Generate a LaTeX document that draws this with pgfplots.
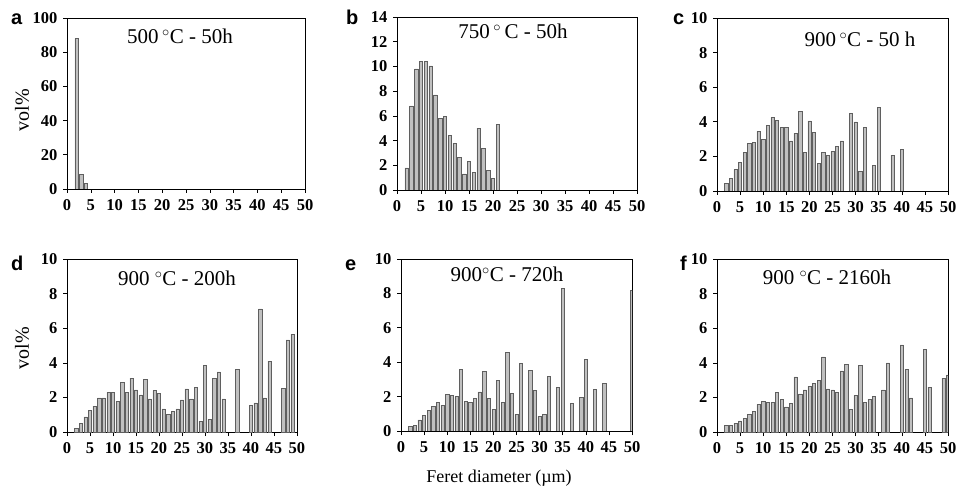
\documentclass[border=0pt]{standalone}
\usepackage{fontspec}
\setmainfont{Liberation Serif}
\newfontfamily\letterfont{Liberation Sans}
\usepackage{pgfplots}
\pgfplotsset{compat=1.18}

\definecolor{barfill}{RGB}{192,192,192}
\definecolor{baredge}{RGB}{95,95,95}

\pgfplotsset{
  hist/.style={
    scale only axis,
    anchor=south west,
    xmin=0, xmax=50, ymin=0,
    xtick={0,5,...,50},
    tick align=outside,
    tick pos=left,
    major tick length=4pt,
    axis line style={black, line width=0.8pt},
    tick style={black, line width=0.6pt},
    tick label style={font=\fontsize{16.5}{18}\selectfont\bfseries},
    /pgf/number format/assume math mode=true,
    xticklabel style={yshift=-3pt},
    yticklabel style={xshift=-2pt},
    ybar, bar width=0.7,
  },
  ten/.style={ymax=10, ytick={0,2,...,10}},
  gbar/.style={fill=barfill, draw=baredge, line width=0.5pt},
}

\newcommand{\titlefont}{\fontsize{21}{24}\selectfont}
\newcommand{\letfont}{\fontsize{20}{22}\selectfont\letterfont\bfseries}

\begin{document}
\begin{tikzpicture}
\path[use as bounding box] (0pt,0pt) rectangle (959pt,493pt);

% a: 500C - 50h
\begin{axis}[hist, at={(67pt,304pt)}, width=238pt, height=171pt,
  ymax=100, ytick={0,20,...,100}]
\addplot[gbar] coordinates {(2,88) (3,8.5) (4,3.2)};
\end{axis}

% b: 750C - 50h
\begin{axis}[hist, at={(397pt,303pt)}, width=240pt, height=173pt,
  ymax=14, ytick={0,2,...,14}]
\addplot[gbar] coordinates {(2,1.8) (3,6.8) (4,9.8) (5,10.43) (6,10.4) (7,10.05) (8,7.7)
  (9,5.8) (10,5.95) (11,4.45) (12,3.78) (13,2.65) (14,1.3) (15,2.3) (16,1.45)
  (17,5.0) (18,3.35) (19,1.6) (20,0.95) (21,5.3)};
\end{axis}

% c: 900C - 50h
\begin{axis}[hist, ten, at={(717pt,302pt)}, width=231pt, height=173pt]
\addplot[gbar] coordinates {(2,0.43) (3,0.72) (4,1.24) (5,1.64) (6,2.22) (7,2.75) (8,2.8)
  (9,3.44) (10,2.98) (11,3.79) (12,4.26) (13,4.1) (14,3.68) (15,3.68) (16,2.9)
  (17,3.33) (18,4.6) (19,2.22) (20,4.06) (21,3.38) (22,1.59) (23,2.22) (24,2.05)
  (25,2.28) (26,2.59) (27,2.9) (29,4.49) (30,4.0) (31,1.12) (32,3.66) (34,1.47)
  (35,4.82) (38,2.07) (40,2.4)};
\end{axis}

% d: 900C - 200h
\begin{axis}[hist, ten, at={(67pt,61pt)}, width=230pt, height=173pt]
\addplot[gbar] coordinates {(2,0.23) (3,0.52) (4,0.87) (5,1.27) (6,1.5) (7,1.97) (8,1.97)
  (9,2.29) (10,2.29) (11,1.77) (12,2.87) (13,2.31) (14,3.12) (15,2.43) (16,2.14)
  (17,3.06) (18,1.91) (19,2.39) (20,2.25) (21,1.33) (22,1.04) (23,1.18) (24,1.33)
  (25,1.85) (26,2.49) (27,1.91) (28,2.6) (29,0.62) (30,3.87) (31,0.75) (32,3.12)
  (33,3.47) (34,1.91) (37,3.64) (40,1.56) (41,1.68) (42,7.11) (43,1.97) (44,4.1)
  (47,2.54) (48,5.32) (49,5.66)};
\end{axis}

% e: 900C - 720h
\begin{axis}[hist, ten, at={(401pt,62pt)}, width=231pt, height=172pt]
\addplot[gbar] coordinates {(2,0.25) (3,0.33) (4,0.64) (5,0.93) (6,1.2) (7,1.44) (8,1.67)
  (9,1.5) (10,2.14) (11,2.08) (12,2.0) (13,3.57) (14,1.73) (15,1.67) (16,1.9)
  (17,2.27) (18,3.46) (19,1.9) (20,1.26) (21,2.93) (22,1.67) (23,4.58) (24,2.19)
  (25,0.97) (26,3.94) (28,3.53) (29,2.37) (30,0.85) (31,0.97) (32,3.17) (34,2.54)
  (35,8.31) (37,1.61) (39,1.94) (40,4.17) (42,2.43) (44,2.78) (50,8.19)};
\end{axis}

% f: 900C - 2160h
\begin{axis}[hist, ten, at={(717pt,61pt)}, width=231pt, height=173pt]
\addplot[gbar] coordinates {(2,0.39) (3,0.39) (4,0.5) (5,0.64) (6,0.79) (7,1.04) (8,1.18)
  (9,1.6) (10,1.79) (11,1.73) (12,1.73) (13,2.31) (14,1.89) (15,1.45) (16,1.64)
  (17,3.18) (18,2.2) (19,2.43) (20,2.64) (21,2.83) (22,2.99) (23,4.34) (24,2.49)
  (25,2.43) (26,2.29) (27,3.53) (28,3.93) (29,1.29) (30,2.12) (31,3.87) (32,1.73)
  (33,1.89) (34,2.08) (36,2.43) (37,3.99) (40,5.03) (41,3.62) (42,1.97) (45,4.78)
  (46,2.6) (49,3.12) (50,3.3)};
\end{axis}

% panel titles
\node[anchor=base, font=\titlefont] at (180pt,449pt) {500\,$^{\circ}$C - 50h};
\node[anchor=base, font=\titlefont] at (513pt,454pt) {750\,$^{\circ}$\,C - 50h};
\node[anchor=base, font=\titlefont] at (860pt,446pt) {900\,$^{\circ}$C - 50 h};
\node[anchor=base, font=\titlefont] at (177pt,207pt) {900 $^{\circ}$C - 200h};
\node[anchor=base, font=\titlefont] at (507pt,211pt) {900$^{\circ}$C - 720h};
\node[anchor=base, font=\titlefont] at (827pt,208pt) {900 $^{\circ}$C - 2160h};

% panel letters
\node[anchor=base west, font=\letfont, inner sep=0pt] at (11pt,468pt) {a};
\node[anchor=base west, font=\letfont, inner sep=0pt] at (346pt,468pt) {b};
\node[anchor=base west, font=\letfont, inner sep=0pt] at (673pt,468pt) {c};
\node[anchor=base west, font=\letfont, inner sep=0pt] at (11pt,222pt) {d};
\node[anchor=base west, font=\letfont, inner sep=0pt] at (345pt,222pt) {e};
\node[anchor=base west, font=\letfont, inner sep=0pt] at (680pt,222pt) {f};

% axis labels
\node[rotate=90, font=\fontsize{20}{22}\selectfont] at (22pt,383pt) {vol\%};
\node[rotate=90, font=\fontsize{20}{22}\selectfont] at (22pt,145pt) {vol\%};
\node[font=\fontsize{18}{20}\selectfont] at (499pt,15pt) {Feret diameter (\textmu m)};
\end{tikzpicture}
\end{document}
